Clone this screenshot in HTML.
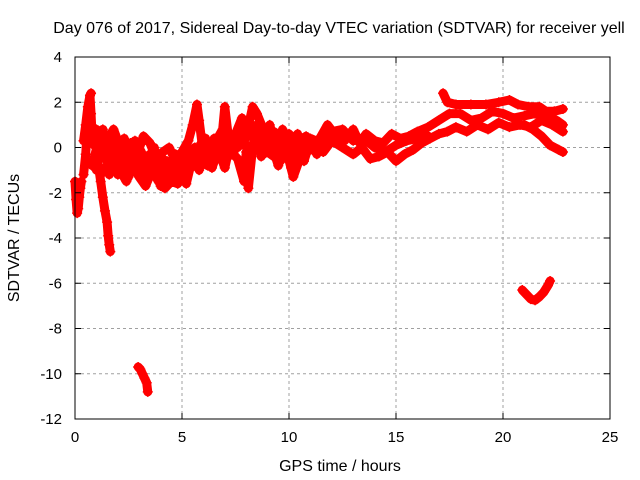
<!DOCTYPE html>
<html><head><meta charset="utf-8"><style>
body{margin:0;background:#fff;}
svg{display:block;font-family:"Liberation Sans",sans-serif;}
</style></head><body>
<svg id="chart" width="640" height="480">
<rect width="640" height="480" fill="#fff"/>
<text x="339" y="33" font-size="16" text-anchor="middle">Day 076 of 2017, Sidereal Day-to-day VTEC variation (SDTVAR) for receiver yell</text>
<text x="340" y="471" font-size="16" text-anchor="middle">GPS time / hours</text>
<text x="0" y="0" font-size="16" text-anchor="middle" transform="translate(19,238) rotate(-90)">SDTVAR / TECUs</text>
<g id="grid"></g>
<g id="marks"></g>
<rect x="75" y="57" width="535" height="362" fill="none" stroke="#000" stroke-width="1"/>
<g id="ticks"></g>
</svg>
<script>
const xTicks=[0,5,10,15,20,25];
const yTicks=[4,2,0,-2,-4,-6,-8,-10,-12];
const traceUpper=[[0.4,0.3],[0.5,1.0],[0.6,1.8],[0.7,2.3],[0.75,1.5],[0.8,0.5],[0.9,0.2],[1.0,0.8],[1.2,0.5],[1.5,0.3],[1.8,0.8],[2.0,0.3],[2.3,0],[2.6,0.2],[2.9,-0.3],[3.2,0.5],[3.5,0.2],[3.8,-0.5],[4.1,-0.2],[4.4,0],[4.7,-0.6],[5.0,-0.2],[5.3,0.3],[5.5,1.0],[5.7,1.9],[5.8,1.2],[6.0,-0.3],[6.3,-0.2],[6.6,0.3],[6.9,0.8],[7.0,1.8],[7.2,0.2],[7.5,0.6],[7.8,1.3],[8.0,0.5],[8.3,1.8],[8.5,1.5],[8.8,0.8],[9.0,0.5],[9.3,0.7],[9.6,0.3],[10.0,0.6],[10.4,0.2],[10.8,0.5],[11.2,0.0],[11.5,0.5],[11.8,1.0],[12.2,0.5],[12.6,0.3],[13.0,0.8],[13.3,0.2],[13.6,0.6],[14,0.3],[14.4,0.2],[14.8,0.6],[15.2,0.4],[15.6,0.5],[16,0.7],[16.5,0.9],[17.0,1.2],[17.5,1.5],[18,1.5],[18.5,1.2],[19,1.3],[19.5,1.6],[20,1.5],[20.5,1.3],[21,1.4],[21.5,1.5],[22,1.4],[22.5,1.2],[22.8,1.0]];
const traceLower=[[0.9,-0.5],[1.2,-1.2],[1.5,-0.8],[1.8,-0.3],[2.1,-1.0],[2.4,-1.5],[2.7,-0.8],[3.0,-1.3],[3.3,-1.7],[3.6,-1.0],[3.9,-1.5],[4.2,-1.8],[4.5,-1.5],[4.8,-1.6],[5.1,-1.0],[5.4,-0.8],[5.8,-0.6],[6.2,-0.8],[6.6,-0.4],[7.0,-0.6],[7.3,-0.2],[7.6,-0.5],[7.9,-1.5],[8.0,-0.2],[8.1,-1.8],[8.3,0.0],[8.6,0.3],[9.0,-0.2],[9.3,-0.4],[9.6,-0.6],[9.9,-0.2],[10.2,-1.3],[10.5,-0.5],[10.8,-0.2],[11.2,0.0],[11.6,-0.2],[12.0,0.3],[12.5,0.0],[13.0,-0.3],[13.4,0.0],[13.8,-0.5],[14.2,-0.4],[14.6,-0.2],[15.0,-0.6],[15.4,-0.3],[15.8,-0.1],[16.2,0.2],[16.6,0.4],[17.0,0.6],[17.4,0.7],[17.8,0.9],[18.3,0.7],[18.8,1.0],[19.3,0.8],[19.8,1.1],[20.3,0.9],[20.8,1.0],[21.3,0.9],[21.8,1.2],[22.3,1.0],[22.8,0.7]];
const traceMiddle=[[0.9,0.1],[1.3,-0.3],[1.7,0.0],[2.0,-0.5],[2.4,-0.8],[2.8,-0.5],[3.2,-0.9],[3.6,-0.6],[4.0,-0.9],[4.4,-1.0],[4.8,-0.8],[5.2,-0.4],[5.6,0.0],[6.0,-0.2],[6.5,0.0],[7.0,0.3],[7.5,0.2],[8.0,0.6],[8.5,0.6],[9.0,0.3],[9.5,0.5],[10.0,0.1],[10.5,0.3],[11,0.4],[11.5,0.2],[12,0.7],[12.5,0.8],[13,0.3],[13.5,0.4],[14,0.0],[14.5,-0.2],[15,0.1],[15.5,0.3],[16,0.4],[16.5,0.5]];
const traceFillA=[[0.8,-0.8],[1.1,0.3],[1.4,-0.5],[1.7,0.5],[2.0,-1.2],[2.3,0.4],[2.6,-1.0],[2.9,0.2],[3.2,-1.4],[3.5,-0.3],[3.8,-1.2],[4.1,-0.5],[4.4,-1.4],[4.7,-0.3],[5.0,-1.3],[5.3,-0.2],[5.6,-0.8],[5.9,0.2],[6.2,-0.5],[6.5,0.4],[6.8,-0.3],[7.1,0.6],[7.4,-0.3],[7.7,0.8],[8.2,-0.5],[8.5,1.0],[8.8,-0.3],[9.1,1.0],[9.4,-0.1],[9.7,0.8]];
const traceFillB=[[1.0,-1.0],[1.3,0.8],[1.6,-1.2],[1.9,0.2],[2.2,-0.4],[2.5,-1.3],[2.8,0.3],[3.1,-0.2],[3.4,-1.2],[3.7,0.0],[4.0,-1.7],[4.3,-0.6],[4.6,-1.2],[4.9,-0.5],[5.2,-1.6],[5.5,-0.4],[5.8,-1.0],[6.1,0.4],[6.4,-0.9],[6.7,-0.1],[7.0,-0.9],[7.3,0.4],[7.6,0.0],[8.4,0.9],[8.7,-0.4],[9.0,0.7],[9.5,-0.8],[9.8,0.3],[10.1,-0.9],[10.4,0.6],[10.7,-0.6],[11.0,0.3],[11.3,-0.3]];
const traceTopLate=[[17.2,2.4],[17.4,2.0],[17.8,1.9],[18.5,1.9],[19.2,1.9],[19.8,2.0],[20.3,2.1],[20.7,1.9],[21.2,1.8],[21.7,1.8],[22.0,1.6],[22.4,1.6],[22.8,1.7]];
const traceDescend=[[21.0,1.0],[21.4,0.8],[21.8,0.5],[22.2,0.1],[22.6,-0.1],[22.8,-0.2]];
const traceStart=[[0,-1.5],[0.05,-2.3],[0.1,-2.9],[0.15,-2.7],[0.2,-2.2],[0.25,-1.8],[0.3,-1.5]];
const traceDip=[[1.05,-0.5],[1.2,-1.5],[1.3,-2.2],[1.4,-2.8],[1.5,-3.3],[1.55,-3.9],[1.6,-4.3],[1.65,-4.6]];
const traceSpike=[[0.4,-1.2],[0.5,-0.3],[0.6,1.2],[0.7,2.3],[0.75,2.4]];
const traceLow10=[[2.95,-9.7],[3.05,-9.8],[3.15,-10.0],[3.25,-10.2],[3.35,-10.4],[3.4,-10.8]];
const traceLow6=[[20.9,-6.3],[21.1,-6.5],[21.3,-6.7],[21.5,-6.75],[21.7,-6.6],[21.9,-6.4],[22.1,-6.1],[22.2,-5.9]];
const traces=[traceUpper,traceLower,traceMiddle,traceFillA,traceFillB,traceTopLate,traceDescend,traceStart,traceDip,traceSpike,traceLow10,traceLow6];

const X0=75,X1=610,Y0=419,Y1=57;
const xs=v=>X0+(v-0)/25*(X1-X0);
const ys=v=>Y0-(v+12)/16*(Y0-Y1);
const NS="http://www.w3.org/2000/svg";
const grid=document.getElementById('grid'),ticks=document.getElementById('ticks'),marks=document.getElementById('marks');
function mk(tag,attrs,parent){const e=document.createElementNS(NS,tag);for(const k in attrs)e.setAttribute(k,attrs[k]);parent.appendChild(e);return e;}
xTicks.forEach(t=>{
  const x=xs(t);
  if(t>0&&t<25){const g=mk('line',{x1:x,x2:x,y1:Y1,y2:Y0,stroke:'#a0a0a0','stroke-dasharray':'3,3'},grid);
    
    }
  mk('line',{x1:x,x2:x,y1:Y0,y2:Y0-6,stroke:'#000'},ticks);
  mk('line',{x1:x,x2:x,y1:Y1,y2:Y1+6,stroke:'#000'},ticks);
  const l=mk('text',{x:x,y:Y0+23,'font-size':15,'text-anchor':'middle'},ticks);l.textContent=t;
  
  
});
yTicks.forEach(t=>{
  const y=ys(t);
  if(t>-12&&t<4){const g=mk('line',{x1:X0,x2:X1,y1:y,y2:y,stroke:'#a0a0a0','stroke-dasharray':'3,3'},grid);
    
    }
  mk('line',{x1:X0,x2:X0+6,y1:y,y2:y,stroke:'#000'},ticks);
  mk('line',{x1:X1,x2:X1-6,y1:y,y2:y,stroke:'#000'},ticks);
  const l=mk('text',{x:X0-13,y:y+5,'font-size':15,'text-anchor':'end'},ticks);l.textContent=t;
  
  
});
traces.forEach(tr=>{
  const p=mk('polyline',{points:tr.map(d=>xs(d[0])+','+ys(d[1])).join(' '),fill:'none',stroke:'#ff0000','stroke-width':9,'stroke-linejoin':'round','stroke-linecap':'round'},marks);
  
  
  tr.forEach(d=>{
    const x=xs(d[0]),y=ys(d[1]);
    const m=mk('path',{d:`M${x-5},${y}H${x+5}M${x},${y-5}V${y+5}`,stroke:'#ff0000','stroke-width':1.5},marks);
    
    
  });
});
</script>
</body></html>
